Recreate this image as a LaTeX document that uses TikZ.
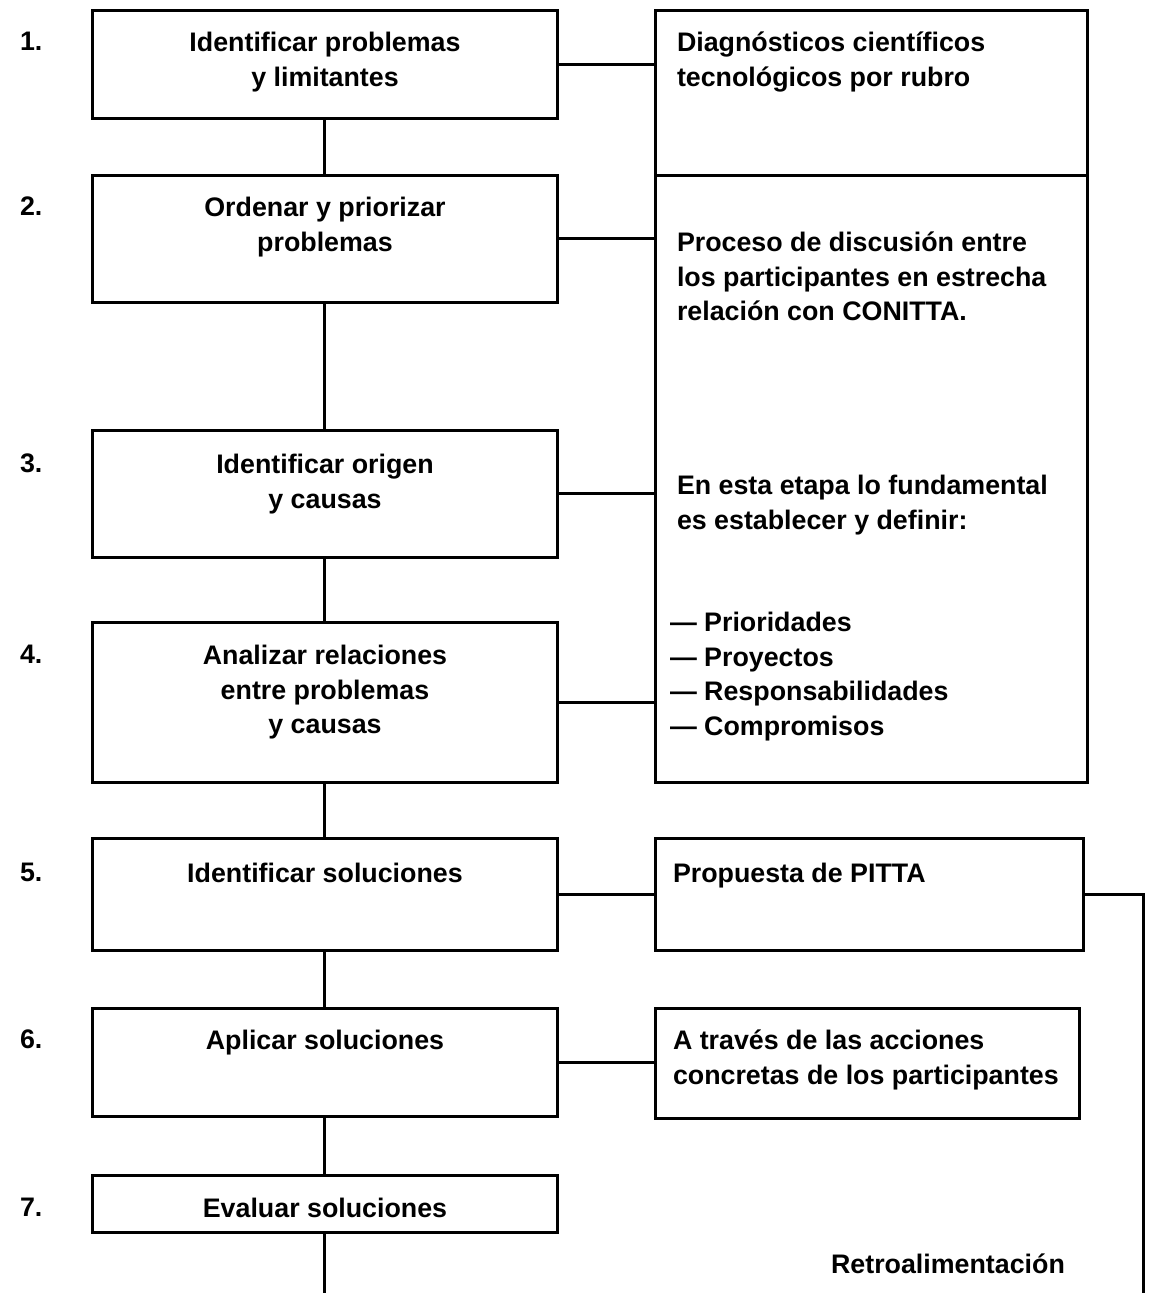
\documentclass[tikz,border=0pt]{standalone}
\usepackage{fontspec}
\setmainfont{Liberation Sans}
\begin{document}
\begin{tikzpicture}[x=1pt,y=-1pt,
  box/.style={draw, line width=3pt, anchor=north west, inner sep=0pt, outer sep=0pt},
  txt/.style={font=\fontsize{26.8}{34.6}\selectfont\bfseries, inner sep=0pt, outer sep=0pt},
  lbl/.style={txt, align=center, anchor=north},
  rtxt/.style={txt, align=left, anchor=north west},
  num/.style={txt, anchor=north west},
  link/.style={line width=3pt}]
\useasboundingbox[fill=white] (0,0) rectangle (1150,1293);

% left column boxes
\node[box, minimum width=465pt, minimum height=108pt] (b1) at (92,10) {};
\node[box, minimum width=465pt, minimum height=127pt] (b2) at (92,175) {};
\node[box, minimum width=465pt, minimum height=127pt] (b3) at (92,430) {};
\node[box, minimum width=465pt, minimum height=160pt] (b4) at (92,622) {};
\node[box, minimum width=465pt, minimum height=112pt] (b5) at (92,838) {};
\node[box, minimum width=465pt, minimum height=108pt] (b6) at (92,1008) {};
\node[box, minimum width=465pt, minimum height=57pt] (b7) at (92,1175) {};

% right column boxes
\node[box, minimum width=432pt, minimum height=165pt] (r1) at (655,10) {};
\node[box, minimum width=432pt, minimum height=607pt] (r2) at (655,175) {};
\node[box, minimum width=428pt, minimum height=112pt] (r5) at (655,838) {};
\node[box, minimum width=424pt, minimum height=110pt] (r6) at (655,1008) {};

% step numbers
\node[num] (n1) at (20,32) {1.};
\node[num] (n2) at (20,197) {2.};
\node[num] (n3) at (20,454) {3.};
\node[num] (n4) at (20,645) {4.};
\node[num] (n5) at (20,863) {5.};
\node[num] (n6) at (20,1030) {6.};
\node[num] (n7) at (20,1198) {7.};

% left labels
\node[lbl] (t1) at (325,32) {Identificar problemas\\y limitantes};
\node[lbl] (t2) at (325,197) {Ordenar y priorizar\\problemas};
\node[lbl] (t3) at (325,454) {Identificar origen\\y causas};
\node[lbl] (t4) at (325,645) {Analizar relaciones\\entre problemas\\y causas};
\node[lbl] (t5) at (325,863) {Identificar soluciones};
\node[lbl] (t6) at (325,1030) {Aplicar soluciones};
\node[lbl] (t7) at (325,1198) {Evaluar soluciones};

% right labels
\node[rtxt] (s1) at (677,32) {Diagnósticos científicos\\tecnológicos por rubro};
\node[rtxt] (s2) at (677,232) {Proceso de discusión entre\\los participantes en estrecha\\relación con CONITTA.};
\node[rtxt] (s3) at (677,475) {En esta etapa lo fundamental\\es establecer y definir:};
\node[rtxt] (s4) at (670,612) {— Prioridades\\— Proyectos\\— Responsabilidades\\— Compromisos};
\node[rtxt] (s5) at (673,863) {Propuesta de PITTA};
\node[rtxt] (s6) at (673,1030) {A través de las acciones\\concretas de los participantes};
\node[txt] (fb) at (948,1264) {Retroalimentación};

% vertical connectors
\draw[link] (b1.south) -- (b2.north);
\draw[link] (b2.south) -- (b3.north);
\draw[link] (b3.south) -- (b4.north);
\draw[link] (b4.south) -- (b5.north);
\draw[link] (b5.south) -- (b6.north);
\draw[link] (b6.south) -- (b7.north);
\coordinate (bot) at (324.5,1293);
\draw[link] (b7.south) -- (b7.south |- bot);

% horizontal connectors
\draw[link] (b1.east) -- (b1.east -| r1.west);
\draw[link] (b2.east) -- (b2.east -| r2.west);
\draw[link] (b3.east) -- (b3.east -| r2.west);
\draw[link] (b4.east) -- (b4.east -| r2.west);
\draw[link] (b5.east) -- (b5.east -| r5.west);
\draw[link] (b6.east) -- (b6.east -| r6.west);

% feedback line
\coordinate (fbend) at (1143,1293);
\draw[link] (r5.east) -- (r5.east -| fbend) -- (fbend);
\end{tikzpicture}
\end{document}
